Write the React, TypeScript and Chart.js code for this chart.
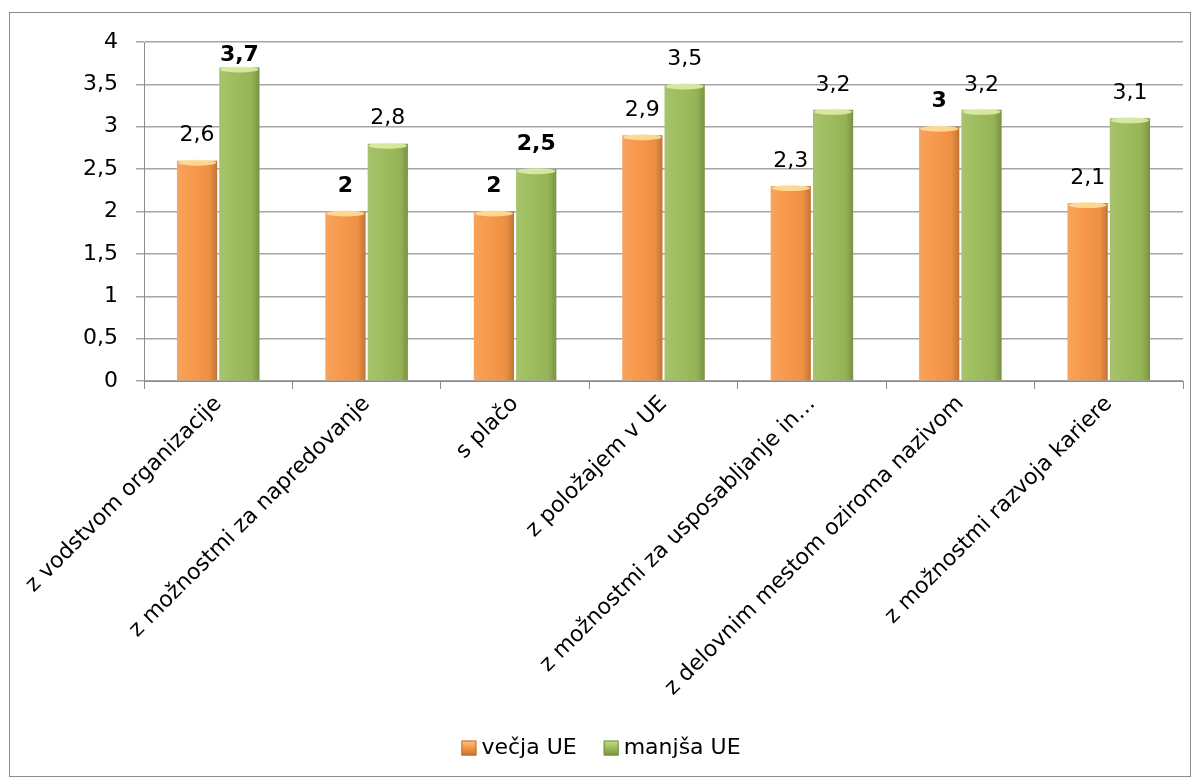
import React, { useEffect, useRef } from "react";
import { Chart, registerables } from "chart.js";

Chart.register(...registerables);

const categories = [
  "z vodstvom organizacije",
  "z možnostmi za napredovanje",
  "s plačo",
  "z položajem v UE",
  "z možnostmi za usposabljanje in…",
  "z delovnim mestom oziroma nazivom",
  "z možnostmi razvoja kariere",
];
const seriesNames = ["večja UE", "manjša UE"];
const vecjaUE = [2.6, 2, 2, 2.9, 2.3, 3, 2.1];
const manjsaUE = [3.7, 2.8, 2.5, 3.5, 3.2, 3.2, 3.1];
const vecjaBold = [false, true, true, false, false, true, false];
const manjsaBold = [true, false, true, false, false, false, false];
const yTicks = [0, 0.5, 1, 1.5, 2, 2.5, 3, 3.5, 4];
const seriesColors = ["#F79646", "#9BBB59"];
const seriesEdges = ["#C0702A", "#76923C"];

const FONT = "'DejaVu Sans', Verdana, sans-serif";
const fmt = (v: number) => String(v).replace(".", ",");

const bgPlugin = {
  id: "bgBorder",
  beforeDraw(chart: any) {
    const ctx = chart.ctx;
    ctx.save();
    ctx.fillStyle = "#ffffff";
    ctx.fillRect(0, 0, chart.width, chart.height);
    ctx.strokeStyle = "#8c8c8c";
    ctx.lineWidth = 1;
    ctx.strokeRect(9.5, 12.5, 1181, 764);
    ctx.restore();
  },
};

const legendPlugin = {
  id: "customLegend",
  afterDraw(chart: any) {
    const ctx = chart.ctx;
    ctx.save();
    ctx.font = `22px ${FONT}`;
    const box = 15;
    const gapBoxText = 5;
    const gapItems = 27;
    const widths = seriesNames.map((n) => box + gapBoxText + ctx.measureText(n).width);
    const total = widths.reduce((a, b) => a + b, 0) + gapItems * (widths.length - 1);
    let x = 601 - total / 2;
    const cy = 748;
    seriesNames.forEach((n, i) => {
      const g = ctx.createLinearGradient(0, cy - box / 2, 0, cy + box / 2);
      g.addColorStop(0, i === 0 ? "#FBC48A" : "#C9DC94");
      g.addColorStop(0.5, seriesColors[i]);
      g.addColorStop(1, seriesEdges[i]);
      ctx.fillStyle = g;
      ctx.fillRect(x, cy - box / 2, box, box);
      ctx.strokeStyle = seriesEdges[i];
      ctx.lineWidth = 1;
      ctx.strokeRect(x + 0.5, cy - box / 2 + 0.5, box - 1, box - 1);
      ctx.fillStyle = "#000";
      ctx.textAlign = "left";
      ctx.textBaseline = "middle";
      ctx.fillText(n, x + box + gapBoxText, cy);
      x += widths[i] + gapItems;
    });
    ctx.restore();
  },
};

const barStyle = {
  id: "barStyle",
  afterDatasetsDraw(chart: any) {
    const ctx = chart.ctx;
    const boldSets = [vecjaBold, manjsaBold];
    chart.data.datasets.forEach((ds: any, di: number) => {
      const meta = chart.getDatasetMeta(di);
      meta.data.forEach((bar: any, i: number) => {
        const { x, y, width, base } = bar.getProps(["x", "y", "width", "base"], true);
        const left = x - width / 2;
        ctx.save();
        const g = ctx.createLinearGradient(left, 0, left + width, 0);
        g.addColorStop(0, "rgba(255,255,255,0.12)");
        g.addColorStop(0.35, "rgba(255,255,255,0.04)");
        g.addColorStop(0.8, "rgba(0,0,0,0.04)");
        g.addColorStop(1, "rgba(0,0,0,0.22)");
        ctx.fillStyle = g;
        ctx.fillRect(left, y, width, base - y);
        ctx.fillStyle = di === 0 ? "rgba(255,226,160,0.85)" : "rgba(225,240,170,0.85)";
        ctx.beginPath();
        ctx.ellipse(x, y + 2, width / 2 - 1, 3, 0, 0, Math.PI * 2);
        ctx.fill();
        const v = ds.data[i];
        const bold = boldSets[di][i];
        ctx.fillStyle = "#000";
        ctx.font = `${bold ? "bold " : ""}22px ${FONT}`;
        ctx.textAlign = "center";
        ctx.textBaseline = "middle";
        const ly = Math.max(y - 25, 55);
        ctx.fillText(fmt(v), x, ly);
        ctx.restore();
      });
    });
  },
};

export default function App() {
  const ref = useRef<HTMLCanvasElement>(null);
  useEffect(() => {
    if (!ref.current) return;
    const chart = new Chart(ref.current, {
      type: "bar",
      data: {
        labels: categories,
        datasets: [
          {
            label: seriesNames[0],
            data: vecjaUE,
            backgroundColor: seriesColors[0],
            borderWidth: 0,
            categoryPercentage: 0.57,
            barPercentage: 0.95,
          },
          {
            label: seriesNames[1],
            data: manjsaUE,
            backgroundColor: seriesColors[1],
            borderWidth: 0,
            categoryPercentage: 0.57,
            barPercentage: 0.95,
          },
        ],
      },
      options: {
        responsive: false,
        animation: false,
        layout: { padding: { left: 0, right: 15, top: 42, bottom: 55 } },
        plugins: {
          tooltip: { enabled: false },
          legend: { display: false },
        },
        scales: {
          x: {
            grid: {
              offset: true,
              drawOnChartArea: false,
              drawTicks: true,
              tickLength: 8,
              color: "#8c8c8c",
            },
            border: { color: "#8c8c8c" },
            ticks: {
              autoSkip: false,
              maxRotation: 45,
              minRotation: 45,
              font: { family: FONT, size: 22 },
              color: "#000",
              padding: 2,
            },
            afterFit: (s: any) => {
              s.height = 346;
            },
          },
          y: {
            min: 0,
            max: 4,
            afterBuildTicks: (s: any) => {
              s.ticks = yTicks.map((v) => ({ value: v }));
            },
            grid: { color: "#a6a6a6", tickLength: 8, lineWidth: 1.5 },
            border: { color: "#8c8c8c" },
            ticks: {
              font: { family: FONT, size: 22 },
              color: "#000",
              padding: 18,
              callback: (v: any) => fmt(Number(v)),
            },
            afterFit: (s: any) => {
              s.width = 144;
            },
          },
        },
      },
      plugins: [bgPlugin, barStyle, legendPlugin],
    } as any);
    return () => chart.destroy();
  }, []);
  return (
    <div style={{ position: "absolute", left: 0, top: 0, width: 1198, height: 782 }}>
      <canvas ref={ref} width={1198} height={782} style={{ display: "block" }} />
    </div>
  );
}
